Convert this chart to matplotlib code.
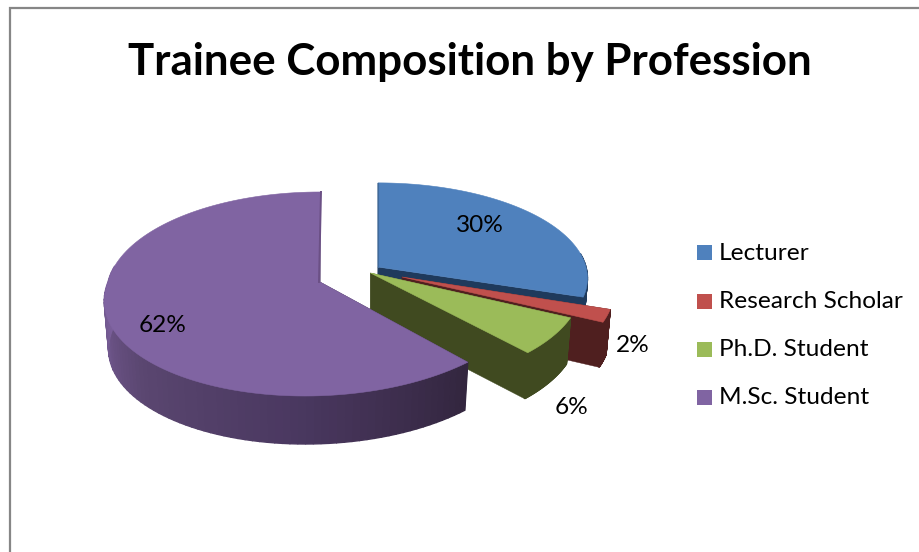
"""
plot.py - Trainee composition, exploded 3D-style pie
"""

import numpy as np
import matplotlib
matplotlib.use("Agg")
import matplotlib.pyplot as plt
from matplotlib.colors import to_rgb
from matplotlib.patches import Rectangle

# ---------------------------
# data
# ---------------------------
TITLE = "Trainee Composition by Profession"
labels = ["Lecturer", "Research Scholar", "Ph.D. Student", "M.Sc. Student"]
values = [30, 2, 6, 62]

# ---------------------------
# style / layout (in pixels)
# ---------------------------
W, H = 919, 552
FONT = "Lato"
top_colors = ["#4f81bd", "#c0504d", "#9bbb59", "#8064a2"]
wall_colors = [["#1f3a5c"], ["#4f1f1f"], ["#404a20"],
               ["#33263f", "#4a3860", "#5a4670", "#7a5f9a", "#7a5f9a", "#7a5f9a"]]
# apex x, apex y, radius x, radius y, front shear, wall depth
geometry = [(378, 267, 208, 94, 0, 46),
            (402, 277, 211, 101, 0, 45),
            (370.5, 273, 210, 100, 0, 46),
            (320, 282, 212, 100.6, 15, 48)]
pct_pos = [(480, 226), (633, 346), (571, 407), (163, 325)]
legend_y = [253, 302, 350, 398]
PERSP = 0.1176  # how much closer the front of the pie looks


def project(theta, g):
    """angle clockwise from 12 o'clock -> pixel position on the top face"""
    cx, cy, a, b, shear, _ = g
    u, v = np.sin(theta), np.cos(theta)
    s = 1.0 / (1.0 + PERSP * v)
    return cx + a * u * s - shear * np.maximum(-v, 0), cy - b * v * s


def lower(x, y, g):
    """same points on the bottom face of the slice"""
    return g[0] + (x - g[0]) * 0.98, y + g[5]


def wall_color(stops, t):
    """colour along the wall, t in 0..1"""
    rgb = np.array([to_rgb(c) for c in stops])
    pos = np.linspace(0, 1, len(stops))
    return [np.interp(t, pos, rgb[:, i]) for i in range(3)]


def draw_slice(ax, start, end, g, top, wall):
    th = np.linspace(start, end, 120)
    x, y = project(th, g)
    xb, yb = lower(x, y, g)
    apex_b = lower(np.array([g[0]]), np.array([g[1]]), g)

    # cut face on the leading edge
    ax.fill([g[0], x[0], xb[0], apex_b[0][0]], [g[1], y[0], yb[0], apex_b[1][0]],
            color=wall[0], lw=0.3)
    # cut face on the trailing edge
    ax.fill([g[0], x[-1], xb[-1], apex_b[0][0]], [g[1], y[-1], yb[-1], apex_b[1][0]],
            color=wall[0], lw=0.3)
    # outer wall, in short strips for the gradient (back half is hidden anyway)
    for i in range(len(th) - 1):
        if np.cos(th[i]) > 0.15:
            continue
        ax.fill([x[i], x[i + 1], xb[i + 1], xb[i]], [y[i], y[i + 1], yb[i + 1], yb[i]],
                color=wall_color(wall, i / (len(th) - 2)), lw=1.0)
    # top face
    ax.fill(np.r_[g[0], x], np.r_[g[1], y], color=top, lw=0.4)


fig = plt.figure(figsize=(W / 100, H / 100), dpi=100)
ax = fig.add_axes([0, 0, 1, 1])
ax.set_xlim(0, W)
ax.set_ylim(H, 0)
ax.axis("off")

# chart frame, the right and bottom sides are cropped off
ax.plot([10, 10, W], [H, 8, 8], color="#868686", lw=1.6, solid_joinstyle="miter")

ax.text(470, 62, TITLE, ha="center", va="center", family=FONT, fontweight="bold",
        fontsize=31.6, color="black")

# ---------- slices ----------
edges = np.r_[0, np.cumsum(values)] / np.sum(values) * 2 * np.pi
for i in range(len(values)):
    draw_slice(ax, edges[i], edges[i + 1], geometry[i], top_colors[i], wall_colors[i])

# thin visible inner faces
xe, ye = project(np.array([edges[4]]), geometry[3])
ax.plot([xe[0] + 1, geometry[3][0] - 1], [ye[0], geometry[3][1]], color="#6b5085", lw=1.4)
xe, ye = project(np.array([edges[0]]), geometry[0])
ax.plot([xe[0], geometry[0][0]], [ye[0], geometry[0][1]], color="#3f6a9c", lw=0.8)

# ---------- labels ----------
for v, (px, py) in zip(values, pct_pos):
    ax.text(px, py, f"{v}%", ha="center", va="center", family=FONT, fontsize=17.6, color="black")

# ---------- legend ----------
for name, col, ly in zip(labels, top_colors, legend_y):
    ax.add_patch(Rectangle((697, ly - 8), 15, 15, facecolor=col, edgecolor="none"))
    ax.text(719, ly, name, ha="left", va="center", family=FONT, fontsize=17.6, color="black")

fig.savefig("out.png", dpi=100)
